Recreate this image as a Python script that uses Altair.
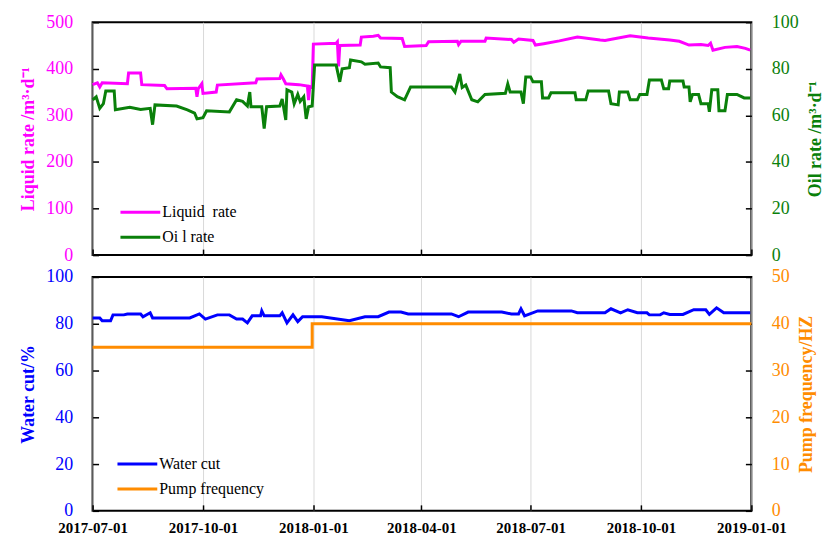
import altair as alt
import pandas as pd

# ---------------- data ----------------
LIQ = "Liquid\u00a0 rate"
OIL = "Oi l rate"
WC = "Water cut"
PF = "Pump frequency"

liq_dates = ["2017-07-01","2017-07-05","2017-07-07","2017-07-09","2017-07-30","2017-07-31","2017-08-10","2017-08-11",
             "2017-08-30","2017-09-01","2017-09-25","2017-09-26","2017-09-27","2017-09-30","2017-10-01","2017-10-12",
             "2017-10-13","2017-11-14","2017-11-15","2017-12-04","2017-12-05","2017-12-07","2017-12-09","2017-12-20",
             "2017-12-27","2017-12-28","2017-12-29","2017-12-31","2018-01-01","2018-01-20","2018-01-21","2018-01-22",
             "2018-01-23","2018-02-09","2018-02-10","2018-02-20","2018-02-24","2018-02-26","2018-03-16","2018-03-18",
             "2018-04-05","2018-04-07","2018-05-01","2018-05-02","2018-05-04","2018-05-24","2018-05-25","2018-06-15",
             "2018-06-17","2018-06-21","2018-07-03","2018-07-05","2018-07-12","2018-07-25","2018-08-09","2018-08-28",
             "2018-09-01","2018-09-22","2018-10-07","2018-10-25","2018-11-02","2018-11-10","2018-11-20","2018-11-26",
             "2018-11-28","2018-11-30","2018-12-10","2018-12-20","2018-12-27","2018-12-31"]
liq_vals = [366,370,361,370,368,391,391,366,
            364,357,358,340,357,368,347,350,
            365,370,378,379,387,378,368,366,
            363,333,362,360,453,455,458,405,
            450,451,468,470,472,466,465,448,
            450,458,459,452,459,459,466,463,
            457,464,461,451,454,460,468,462,
            461,471,466,462,459,451,452,450,
            455,440,446,448,444,440]

oil_dates = ["2017-07-01","2017-07-04","2017-07-07","2017-07-10","2017-07-12","2017-07-19","2017-07-20","2017-08-01",
             "2017-08-10","2017-08-18","2017-08-20","2017-08-22","2017-09-09","2017-09-18","2017-09-24","2017-09-26",
             "2017-10-01","2017-10-04","2017-10-23","2017-10-29","2017-11-03","2017-11-07","2017-11-09","2017-11-10",
             "2017-11-19","2017-11-21","2017-11-23","2017-12-04","2017-12-06","2017-12-09","2017-12-10","2017-12-14",
             "2017-12-16","2017-12-19","2017-12-21","2017-12-24","2017-12-26","2017-12-28","2017-12-31","2018-01-02",
             "2018-01-20","2018-01-23","2018-01-25","2018-01-31","2018-02-01","2018-02-10","2018-02-13","2018-02-24",
             "2018-02-26","2018-03-06","2018-03-07","2018-03-12","2018-03-18","2018-03-23","2018-04-26","2018-04-29",
             "2018-05-03","2018-05-05","2018-05-08","2018-05-13","2018-05-18","2018-05-24","2018-06-10","2018-06-12",
             "2018-06-14","2018-06-23","2018-06-25","2018-06-27","2018-07-01","2018-07-03","2018-07-10","2018-07-11",
             "2018-07-16","2018-07-18","2018-08-07","2018-08-08","2018-08-16","2018-08-18","2018-09-04","2018-09-06",
             "2018-09-12","2018-09-13","2018-09-20","2018-09-22","2018-09-28","2018-09-30","2018-10-06","2018-10-08",
             "2018-10-18","2018-10-20","2018-10-24","2018-10-25","2018-11-05","2018-11-06","2018-11-10","2018-11-11",
             "2018-11-13","2018-11-18","2018-11-20","2018-11-26","2018-11-27","2018-11-29","2018-12-04","2018-12-05",
             "2018-12-10","2018-12-12","2018-12-20","2018-12-26","2018-12-31"]
oil_vals = [66.7,68,63,65,70.5,70.5,62.4,63.5,
            62.5,63,56,64.5,64,62.4,61,58.5,
            59,62,61.5,66.7,66,64,70,63.7,
            63.7,54.3,63.7,64,67,58,71,70,
            65,69,66,68,58.5,63.7,64,81.6,
            81.6,74.4,80,80.5,83.8,83,82,82.5,
            80.8,80.5,70,68,66.7,72.2,72.2,70,
            77.8,72,73,66.7,65.8,69,69.5,73.5,
            70,70,65,76.5,76.5,74.4,74.4,67.5,
            67.5,69.7,69.7,66.7,66.7,70.5,70.5,65,
            64.5,70,70,66.7,66.7,69,69,75.2,
            75.2,71.4,71.4,74.8,74.8,72.2,72.2,65.8,
            69,69,65,65,61.5,71,71,62,
            62,69,69,67.5,67.5]

wc_dates = ["2017-07-01","2017-07-07","2017-07-09","2017-07-16","2017-07-18","2017-07-27","2017-07-30","2017-08-10",
            "2017-08-12","2017-08-18","2017-08-20","2017-09-20","2017-09-28","2017-10-03","2017-10-13","2017-10-23",
            "2017-10-29","2017-11-03","2017-11-07","2017-11-11","2017-11-18","2017-11-19","2017-11-21","2017-12-04",
            "2017-12-06","2017-12-10","2017-12-15","2017-12-19","2017-12-23","2018-01-08","2018-01-31","2018-02-13",
            "2018-02-24","2018-03-05","2018-03-15","2018-03-21","2018-04-26","2018-05-02","2018-05-10","2018-06-07",
            "2018-06-15","2018-06-21","2018-06-23","2018-06-26","2018-07-07","2018-08-04","2018-08-09","2018-09-01",
            "2018-09-06","2018-09-14","2018-09-20","2018-09-28","2018-10-06","2018-10-08","2018-10-17","2018-10-20",
            "2018-10-25","2018-11-05","2018-11-14","2018-11-24","2018-11-27","2018-12-03","2018-12-09","2018-12-31"]
wc_vals = [82.5,82.5,81.3,81.3,83.8,83.8,84.2,84.2,
           83,84.7,82.5,82.5,84.2,82,83.8,83.8,
           82,82,80.4,83.4,83.4,85.5,83.4,83.4,
           84.7,80.4,83.8,80.9,83,83,81.3,83,
           83,85,85,84.2,84.2,83,85,85,
           84.2,84.2,86.4,83.4,85.5,85.5,84.7,84.7,
           86.4,84.7,86,84.7,84.7,83.8,83.8,84.7,
           84,84,86,86,84,86.8,84.7,84.7]

pump_dates = ["2017-07-01", "2017-12-31", "2019-01-01"]
pump_vals = [35, 40, 40]

x_ticks = ["2017-07-01", "2017-10-01", "2018-01-01", "2018-04-01", "2018-07-01", "2018-10-01", "2019-01-01"]
liq_ticks = [0, 100, 200, 300, 400, 500]
oil_ticks = [0, 20, 40, 60, 80, 100]
wc_ticks = [0, 20, 40, 60, 80, 100]
pf_ticks = [0, 10, 20, 30, 40, 50]

# ---------------- style ----------------
MAG = "#ff00ff"
GRN = "#0a800a"
BLU = "#0000ff"
ORG = "#ff8c00"
FONT = "Liberation Serif"
W, H1, H2 = 662, 234, 235
LW = 3
TK = 6  # inward tick length


def dt(s):
    t = pd.Timestamp(s)
    return alt.DateTime(year=t.year, month=t.month, date=t.day)


def frame(dates, vals):
    return pd.DataFrame({"date": pd.to_datetime(dates), "value": vals})


x_scale = alt.Scale(domain=[dt(x_ticks[0]), dt(x_ticks[-1])], nice=False)
x_vals = [dt(s) for s in x_ticks]

x_axis_top = alt.Axis(values=x_vals, labels=False, title=None, grid=True,
                      gridColor="#d9d9d9", gridWidth=1, domain=False,
                      offset=-TK, tickSize=TK, tickColor="black", tickWidth=1.5)
x_axis_bot = alt.Axis(values=x_vals, format="%Y-%m-%d", title=None, grid=True, gridColor="#d9d9d9",
                      gridWidth=1, domain=False, offset=-TK, tickSize=TK, tickColor="black", tickWidth=1.5,
                      labelFont=FONT, labelFontSize=15, labelFontWeight="bold", labelColor="black",
                      labelPadding=10, labelOverlap=False, labelFlush=False)


def yaxis(title, color, values, orient):
    return alt.Axis(title=title, orient=orient, values=values, grid=False,
                    domain=False, offset=-TK, tickSize=TK, tickColor="black", tickWidth=1.5,
                    labelFont=FONT, labelFontSize=18, labelColor=color, labelPadding=20,
                    titleFont=FONT, titleFontSize=18, titleFontWeight="bold", titleColor=color,
                    titlePadding=8, titleAngle=270,
                    titleBaseline="top" if orient == "right" else "bottom")


def line(df, color, dom, axis, xaxis, interp="linear"):
    return alt.Chart(df).mark_line(color=color, strokeWidth=LW, interpolate=interp).encode(
        x=alt.X("date:T", scale=x_scale, axis=xaxis),
        y=alt.Y("value:Q", scale=alt.Scale(domain=dom), axis=axis),
    )


def legend(labels, colors, x0, y0, step):
    layers = []
    one = pd.DataFrame({"a": [0]})
    for i, (lab, col) in enumerate(zip(labels, colors)):
        yy = y0 + i * step
        layers.append(alt.Chart(one).mark_rule(color=col, strokeWidth=LW).encode(
            x=alt.value(x0), x2=alt.value(x0 + 40), y=alt.value(yy)))
        layers.append(alt.Chart(one).mark_text(text=lab, align="left", baseline="middle", font=FONT,
                                               fontSize=16, color="black").encode(
            x=alt.value(x0 + 42), y=alt.value(yy)))
    return layers


# ---------------- top panel ----------------
liq_line = line(frame(liq_dates, liq_vals), MAG, [0, 500],
                yaxis("Liquid rate /m³·d⁻¹", MAG, liq_ticks, "left"), x_axis_top)
oil_line = line(frame(oil_dates, oil_vals), GRN, [0, 100],
                yaxis("Oil rate /m³·d⁻¹", GRN, oil_ticks, "right"), x_axis_top)

top = alt.layer(
    liq_line, oil_line, *legend([LIQ, OIL], [MAG, GRN], 28, 191, 25)
).resolve_scale(y="independent").properties(width=W, height=H1)

# ---------------- bottom panel ----------------
wc_line = line(frame(wc_dates, wc_vals), BLU, [0, 100],
               yaxis("Water cut/%", BLU, wc_ticks, "left"), x_axis_bot)
pf_line = line(frame(pump_dates, pump_vals), ORG, [0, 50],
               yaxis("Pump frequency/HZ", ORG, pf_ticks, "right"), x_axis_bot, interp="step-after")

bottom = alt.layer(
    wc_line, pf_line, *legend([WC, PF], [BLU, ORG], 25, 188, 25)
).resolve_scale(y="independent").properties(width=W, height=H2)

chart = alt.vconcat(top, bottom, spacing=2).properties(
    padding={"left": 10, "top": 3, "right": 2, "bottom": 2}
).configure_view(stroke="black", strokeWidth=2)

chart.save("out.html", embed_options={"renderer": "svg", "actions": False})
